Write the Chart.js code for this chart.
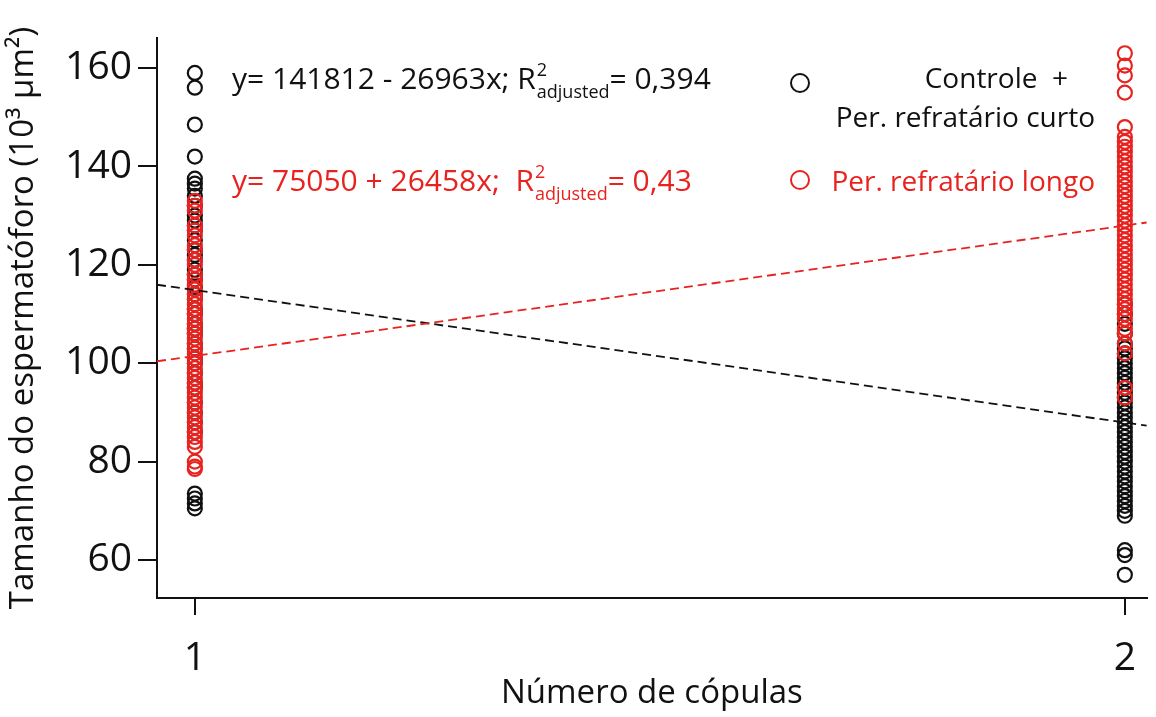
<!DOCTYPE html>
<html>
<head>
<meta charset="utf-8">
<script src="https://cdn.jsdelivr.net/npm/chart.js@4"></script>
<style>
  body { margin: 0; background: #fff; }
</style>
</head>
<body>
<canvas id="chart" width="1156" height="717"></canvas>
<script>
// spermatophore size (10^3 µm²) by number of copulations
const controleCop1 = [159, 156, 148.5, 142, 137.5, 136.5, 135.5, 134, 132, 130, 129, 128, 127, 125, 123, 122, 121,
  119, 118, 117, 115.5, 114, 113, 111, 110, 108, 107, 106, 104, 103, 101, 100, 98, 96, 95, 92, 90, 88, 86,
  73.5, 72.5, 71.5, 70.5];
const controleCop2 = [112, 110, 108, 106, 104, 103, 102, 101, 100, 99, 98, 97, 96, 95, 94, 93, 92, 91, 90, 89,
  88, 87, 86, 85, 84, 83, 82, 81, 80, 79, 78, 77, 76, 75, 74, 73, 72, 71, 70, 69, 62, 61, 57];
const longoCop1 = [133, 132, 131, 128, 127, 126, 124, 123, 121, 120, 118, 117, 116, 115, 114, 113, 112, 111, 110,
  109, 108, 107, 106, 105, 104, 103, 102, 101, 100, 99, 98, 97, 96, 95, 94, 93, 92, 91, 90, 89, 88, 87, 86,
  85, 84, 83, 80, 79, 78.5];
const longoCop2 = [163, 160.5, 158.5, 155, 148, 146, 145, 144, 143, 142, 141, 140, 139, 138, 137, 136, 135, 134,
  133, 132, 131, 130, 129, 128, 127, 126, 125, 124, 123, 122, 121, 120, 119, 118, 117, 116, 115, 114, 113,
  112, 111, 110, 109, 107, 106, 104, 102, 95, 93];

const xRange = [0.9593, 2.0236];
const controleFit = [115.95, 87.3];
const longoFit = [100.4, 128.6];

const black = '#111111';
const red = '#e8231f';
const font = '"Open Sans", "Noto Sans", sans-serif';

function pts(x, arr) { return arr.map(v => ({x: x, y: v})); }

const annotations = {
  id: 'annotations',
  afterDraw(chart) {
    const ctx = chart.ctx;
    ctx.save();
    ctx.textBaseline = 'alphabetic';
    function eq(x, y, color, main, r2) {
      ctx.fillStyle = color;
      ctx.textAlign = 'left';
      ctx.font = '30px ' + font;
      ctx.fillText(main, x, y);
      x += ctx.measureText(main).width + 1;
      ctx.font = '18px ' + font;
      ctx.fillText('2', x, y - 13);
      ctx.fillText('adjusted', x, y + 9);
      x += ctx.measureText('adjusted').width;
      ctx.font = '30px ' + font;
      ctx.fillText(r2, x, y);
    }
    eq(232, 89, black, 'y= 141812 - 26963x; R', '= 0,394');
    eq(232, 191, red, 'y= 75050 + 26458x;  R', '= 0,43');

    // legend
    ctx.lineWidth = 2;
    ctx.strokeStyle = black;
    ctx.beginPath(); ctx.arc(800, 83, 9, 0, Math.PI * 2); ctx.stroke();
    ctx.strokeStyle = red;
    ctx.beginPath(); ctx.arc(800, 180, 9, 0, Math.PI * 2); ctx.stroke();
    ctx.font = '28px ' + font;
    ctx.textAlign = 'right';
    ctx.fillStyle = black;
    ctx.fillText('Controle  +', 1068, 88);
    ctx.fillText('Per. refratário curto', 1095, 127);
    ctx.fillStyle = red;
    ctx.fillText('Per. refratário longo', 1095, 191);
    ctx.restore();
  }
};

new Chart(document.getElementById('chart'), {
  type: 'scatter',
  data: {
    datasets: [
      {
        label: 'fit longo', type: 'line', data: [{x: xRange[0], y: longoFit[0]}, {x: xRange[1], y: longoFit[1]}],
        borderColor: red, borderWidth: 1.8, borderDash: [9, 5], pointRadius: 0, fill: false
      },
      {
        label: 'fit controle', type: 'line', data: [{x: xRange[0], y: controleFit[0]}, {x: xRange[1], y: controleFit[1]}],
        borderColor: black, borderWidth: 1.8, borderDash: [9, 5], pointRadius: 0, fill: false
      },
      {
        label: 'Per. refratário longo', data: pts(1, longoCop1).concat(pts(2, longoCop2)),
        pointRadius: 7, borderWidth: 2.2, borderColor: red, backgroundColor: 'rgba(0,0,0,0)'
      },
      {
        label: 'Controle + Per. refratário curto', data: pts(1, controleCop1).concat(pts(2, controleCop2)),
        pointRadius: 7, borderWidth: 2.2, borderColor: black, backgroundColor: 'rgba(0,0,0,0)'
      }
    ]
  },
  options: {
    responsive: false,
    animation: false,
    layout: {autoPadding: false, padding: {top: 38, right: 0, left: 0, bottom: 0}},
    plugins: {legend: {display: false}, tooltip: {enabled: false}},
    scales: {
      x: {
        type: 'linear', min: xRange[0], max: xRange[1],
        afterBuildTicks: s => { s.ticks = [{value: 1}, {value: 2}]; },
        afterFit: s => { s.height = 119; },
        grid: {drawOnChartArea: false, tickLength: 17, color: black, lineWidth: 2},
        border: {color: black, width: 2},
        ticks: {color: black, padding: 20, font: {family: font, size: 39}},
        title: {display: true, text: 'Número de cópulas', color: black, padding: {top: 0}, font: {family: font, size: 33}}
      },
      y: {
        min: 52.28, max: 166.1,
        afterBuildTicks: s => { s.ticks = [60, 80, 100, 120, 140, 160].map(v => ({value: v})); },
        afterFit: s => { s.width = 157; },
        grid: {drawOnChartArea: false, tickLength: 19, color: black, lineWidth: 2},
        border: {color: black, width: 2},
        ticks: {color: black, padding: 6, font: {family: font, size: 39}},
        title: {display: true, text: 'Tamanho do espermatóforo (10³ µm²)', color: black, padding: {bottom: 0}, font: {family: font, size: 33}}
      }
    }
  },
  plugins: [annotations]
});
</script>
</body>
</html>
